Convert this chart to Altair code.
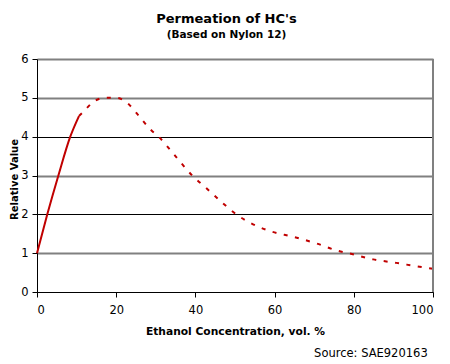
import altair as alt
import pandas as pd

# Measured series (Relative Value vs Ethanol %)
solid_x = [0, 2.6, 5.4, 8.4, 10.6]
solid_y = [1.0, 2.0, 3.0, 4.0, 4.53]
dash_x = [10.6, 11.7, 14.3, 17, 20, 23.1, 25.2, 28.8, 30.7, 34.7, 39.2, 42.8, 47,
          50.6, 53.3, 58.8, 64.7, 70.6, 76, 79, 84.9, 90.7, 96.6, 100]
dash_y = [4.53, 4.64, 4.9, 5.0, 5.0, 4.84, 4.6, 4.17, 4.0, 3.53, 3.0, 2.67, 2.28,
          1.98, 1.81, 1.57, 1.42, 1.25, 1.06, 0.99, 0.84, 0.75, 0.65, 0.6]
x_ticks = [0, 20, 40, 60, 80, 100]
y_ticks = [0, 1, 2, 3, 4, 5, 6]

title = "Permeation of HC's"
subtitle = "(Based on Nylon 12)"
x_title = "Ethanol Concentration, vol. %"
y_title = "Relative Value"
source = "Source: SAE920163"

RED = "#c00000"
W, H = 396, 233

solid_df = pd.DataFrame({"x": solid_x, "y": solid_y})
dash_df = pd.DataFrame({"x": dash_x, "y": dash_y})

gray_test = "datum.value % 2 == 1 || datum.value == 6"

x_scale = alt.Scale(domain=[0, 100], nice=False)
y_scale = alt.Scale(domain=[0, 6], nice=False)
x_axis = alt.Axis(values=x_ticks, title=x_title, grid=False,
                  titleY=42.3, titleBaseline="alphabetic", labelPadding=7)
y_axis = alt.Axis(values=y_ticks, title=y_title, grid=True,
                  gridColor={"condition": {"test": gray_test, "value": "#808080"}, "value": "#000000"},
                  gridWidth={"condition": {"test": gray_test, "value": 2}, "value": 1},
                  titleX=-19.5, titleY=120, titleBaseline="alphabetic",
                  titleFontSize=10, labelPadding=4)

x_enc = alt.X("x:Q", scale=x_scale, axis=x_axis)
y_enc = alt.Y("y:Q", scale=y_scale, axis=y_axis)

solid = alt.Chart(solid_df).mark_line(color=RED, strokeWidth=2, interpolate="monotone").encode(
    x=x_enc, y=y_enc)
dashed = alt.Chart(dash_df).mark_line(color=RED, strokeWidth=2, strokeDash=[4, 7.5],
                                      interpolate="monotone").encode(x=x_enc, y=y_enc)

border = alt.Chart(pd.DataFrame({"bx": [100], "b0": [0], "b1": [6]})).mark_rule(
    color="#808080", strokeWidth=2).encode(
    x=alt.X("bx:Q", scale=x_scale, axis=x_axis),
    y=alt.Y("b0:Q", scale=y_scale, axis=y_axis), y2="b1:Q")

def label(text, x, y, size, weight="normal", align="center"):
    return alt.Chart(pd.DataFrame({"t": [text]})).mark_text(
        font="DejaVu Sans", fontSize=size, fontWeight=weight, align=align,
        baseline="alphabetic", color="#000000").encode(
        text="t:N", x=alt.value(x), y=alt.value(y))

t1 = label(title, 189.5, -35.7, 13, "bold")
t2 = label(subtitle, 189.5, -20.7, 10.5, "bold")
t3 = label(source, 390.7, 298.3, 11.5, "normal", "right")

chart = alt.layer(solid, dashed, border, t1, t2, t3).properties(
    width=W, height=H,
    autosize=alt.AutoSizeParams(type="none"),
    padding={"left": 29, "top": 51, "right": 9, "bottom": 72},
    background="white",
).configure_view(stroke=None).configure_axis(
    domainColor="#000000", domainWidth=1, tickColor="#000000", tickSize=5,
    labelFont="DejaVu Sans", labelFontSize=11.5, labelColor="#000000",
    titleFont="DejaVu Sans", titleFontSize=10.7, titleFontWeight="bold", titleColor="#000000",
)

chart.save("out.html", embed_options={"renderer": "svg", "actions": False})
